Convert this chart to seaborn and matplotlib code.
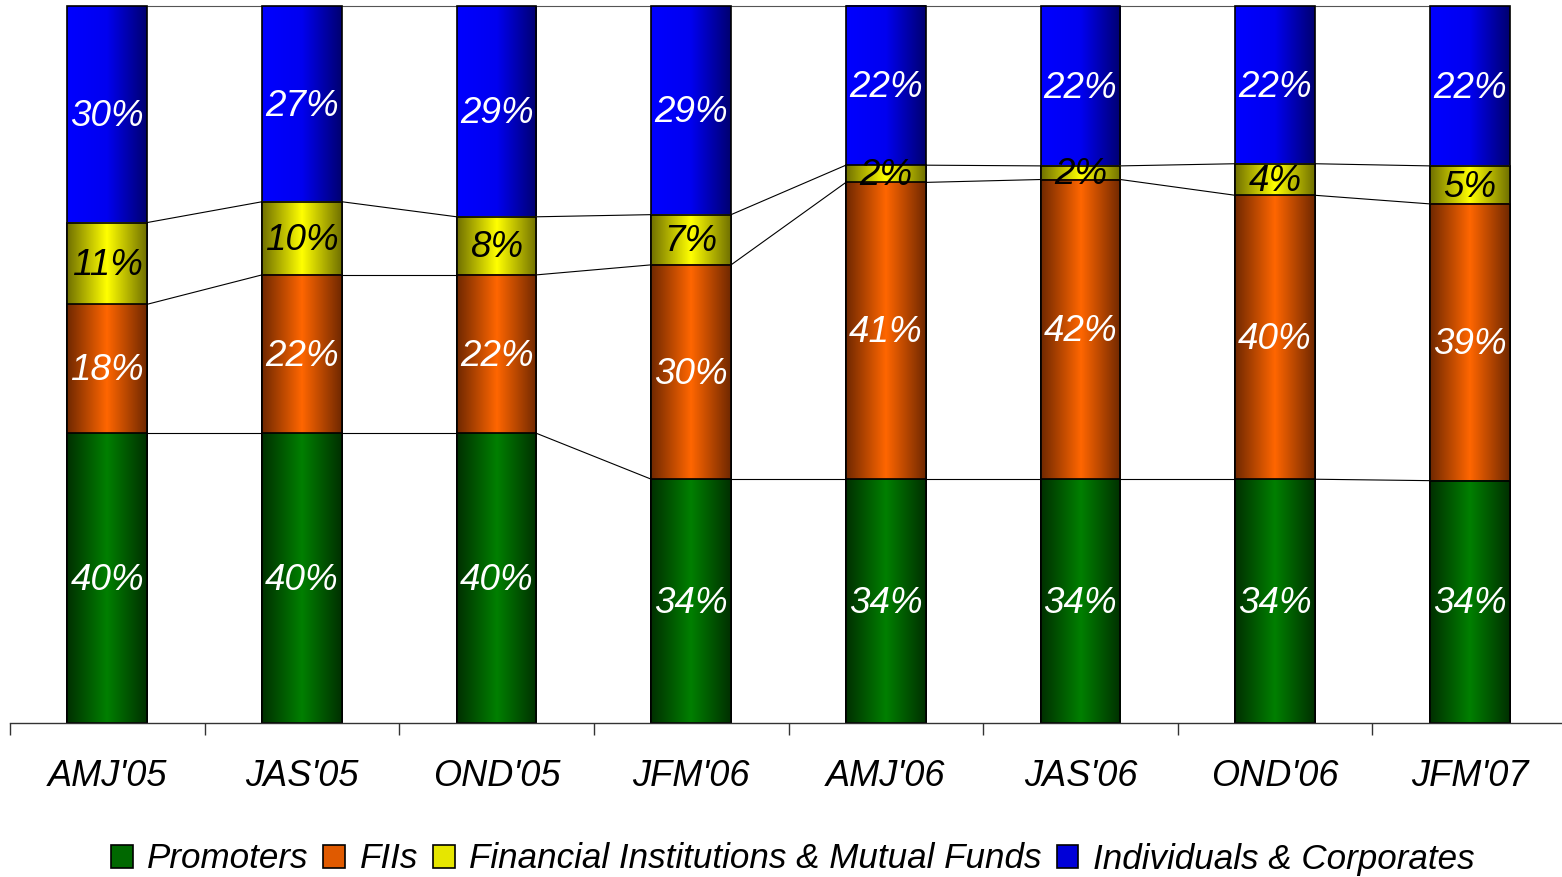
import numpy as np
import pandas as pd
import matplotlib
matplotlib.use("Agg")
import matplotlib.pyplot as plt
import seaborn as sns
from matplotlib.colors import LinearSegmentedColormap
from matplotlib.patches import Rectangle

# ---------------- data ----------------
quarters = ["AMJ'05", "JAS'05", "OND'05", "JFM'06", "AMJ'06", "JAS'06", "OND'06", "JFM'07"]
promoters = [40.4, 40.4, 40.4, 34.0, 34.0, 34.0, 34.0, 33.8]
fiis = [18.0, 22.1, 22.1, 29.9, 41.4, 41.8, 39.6, 38.6]
fi_mf = [11.4, 10.2, 8.1, 7.0, 2.4, 1.9, 4.4, 5.3]
individuals = [30.2, 27.3, 29.4, 29.1, 22.2, 22.3, 22.0, 22.3]
series_names = ["Promoters", "FIIs", "Financial Institutions & Mutual Funds",
                "Individuals & Corporates"]

# ---------------- styles ----------------
sns.set_theme(style="white")
plt.rcParams["font.family"] = ["Liberation Sans", "DejaVu Sans"]
plt.rcParams["text.color"] = "black"

grad_colors = [
    ["#003000", "#008000", "#003000"],            # green
    ["#702800", "#FF6600", "#702800"],            # orange
    ["#707000", "#FFFF00", "#707000"],            # yellow
    ["#0000FF", "#0000F0", "#000070"],            # blue (left bright -> right dark)
]
solid_colors = ["#006800", "#E05A00", "#E6E600", "#0000D8"]
label_colors = ["white", "white", "black", "white"]
cmaps = [LinearSegmentedColormap.from_list(f"g{i}", c) for i, c in enumerate(grad_colors)]

series_vals = [promoters, fiis, fi_mf, individuals]
df = pd.DataFrame({"quarter": quarters})
for name, vals in zip(series_names, series_vals):
    df[name] = vals
cum = df[series_names].cumsum(axis=1)
bottoms = cum.shift(1, axis=1).fillna(0)

fig = plt.figure(figsize=(15.62, 8.77), dpi=100)
ax = fig.add_axes([10 / 1562, 1 - 723 / 877, 1557 / 1562, 723 / 877])

bar_w = 0.41
grad = np.linspace(0, 1, 256).reshape(1, -1)

# draw from the top layer down so lower layers cover the upper ones
for k in range(3, -1, -1):
    n_before = len(ax.patches)
    sns.barplot(x=df["quarter"], y=cum[series_names[k]], order=quarters, ax=ax,
                color=solid_colors[k], width=bar_w, edgecolor="black",
                linewidth=1.2, saturation=1)
    new_patches = ax.patches[n_before:]
    z = 2 + 2 * (3 - k)
    for p in new_patches:
        x0, y0 = p.get_x(), p.get_y()
        w, h = p.get_width(), p.get_height()
        ax.imshow(grad, cmap=cmaps[k], extent=(x0, x0 + w, y0, y0 + h),
                  aspect="auto", origin="lower", zorder=z, interpolation="bilinear")
        p.set_facecolor("none")
        p.set_zorder(z + 0.5)
        p.set_clip_on(False)

# series lines between adjacent bars
xs = np.arange(len(quarters))
for name in series_names:
    lv = cum[name].values
    for i in range(len(quarters) - 1):
        ax.plot([xs[i] + bar_w / 2, xs[i + 1] - bar_w / 2], [lv[i], lv[i + 1]],
                color="black" if name != series_names[-1] else "#555555",
                lw=0.8, zorder=1, clip_on=False)

# data labels
for k, name in enumerate(series_names):
    for i in range(len(quarters)):
        v = df[name].iloc[i]
        ax.text(xs[i], bottoms[name].iloc[i] + v / 2 - 0.3, f"{v:.0f}%",
                ha="center", va="center", fontsize=26.5, fontstyle="italic",
                color=label_colors[k], zorder=20)

ax.set_xlim(-0.5, len(quarters) - 0.5)
ax.set_ylim(0, 100 * 723 / 717)
ax.set_xlabel("")
ax.set_ylabel("")
ax.set_yticks([])
ax.set_xticks(xs)
ax.set_xticklabels(quarters, fontsize=26, fontstyle="italic", color="black")
ax.set_xticks(np.arange(-0.5, len(quarters), 1), minor=True)
ax.tick_params(axis="x", which="major", length=0, pad=26)
ax.tick_params(axis="x", which="minor", length=8.6, width=1, color="#333333",
               direction="out", bottom=True)
for s in ["top", "left", "right"]:
    ax.spines[s].set_visible(False)
ax.spines["bottom"].set_color("#333333")
ax.spines["bottom"].set_linewidth(1)
ax.spines["bottom"].set_zorder(30)
ax.grid(False)

handles = [Rectangle((0, 0), 1, 1, facecolor=c, edgecolor="black", linewidth=1.2)
           for c in solid_colors]
leg = fig.legend(handles, series_names, loc="center", bbox_to_anchor=(0.5075, 1 - 859 / 877),
                 ncol=4, frameon=False, prop={"size": 25.2, "style": "italic"},
                 handlelength=0.62, handleheight=0.62, handletextpad=0.42,
                 columnspacing=0.42, borderaxespad=0)
for t in leg.get_texts():
    t.set_color("black")

fig.savefig("out.png", dpi=100)
